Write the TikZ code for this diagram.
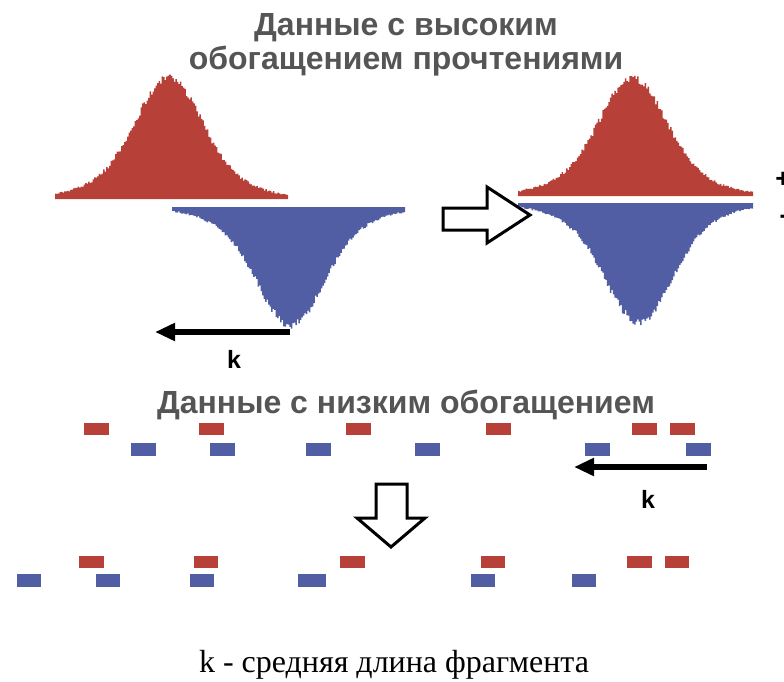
\documentclass[tikz,border=0pt]{standalone}
\usepackage{fontspec}
\setmainfont{Liberation Serif}
\newfontfamily\sansf{Liberation Sans}
\usetikzlibrary{arrows.meta}
\definecolor{hred}{RGB}{183,64,56}
\definecolor{hblue}{RGB}{82,94,163}
\definecolor{tgray}{RGB}{85,85,85}
\tikzset{
  title/.style={font=\sansf\bfseries\fontsize{32}{36}\selectfont, text=tgray, anchor=base, inner sep=0pt},
  klabel/.style={font=\sansf\bfseries\fontsize{25}{28}\selectfont, anchor=base, inner sep=0pt},
  pm/.style={font=\sansf\bfseries\fontsize{26}{28}\selectfont, anchor=center, inner sep=0pt},
  redbox/.style={fill=hred},
  bluebox/.style={fill=hblue},
  karrow/.style={line width=5.5pt, -{Triangle[length=20pt,width=17pt]}},
  hollow/.style={line width=3pt, draw=black, fill=white, line join=miter},
  declare function={bump(\d)=0.72*exp(-(\d)^2/(2*31^2))+0.28*exp(-(\d)^2/(2*58^2));}
}
\begin{document}
\begin{tikzpicture}[x=1pt,y=-1pt]
\useasboundingbox (0,0) rectangle (784,682);
\pgfmathsetseed{7}
% titles
\node[title] (t1) at (406,36) {Данные с высоким};
\node[title] (t2) at (406,70) {обогащением прочтениями};
% left histogram
\fill[hred] (55,199) -- plot[const plot, domain=55:288, samples=156] (\x,{199-121*bump(\x-168)-4*rand*sqrt(bump(\x-168))}) -- (288,199) -- cycle;
\draw[hred, line width=1.5pt] (55,198.5) -- (288,198.5);
\fill[hblue] (172,207) -- plot[const plot, domain=172:405, samples=156] (\x,{207+118*bump(\x-290)+4*rand*sqrt(bump(\x-290))}) -- (405,207) -- cycle;
\draw[hblue, line width=1.5pt] (172,207.5) -- (405,207.5);
% right histogram
\fill[hred] (518,196) -- plot[const plot, domain=518:753, samples=157] (\x,{196-118*bump(\x-632)-4*rand*sqrt(bump(\x-632))}) -- (753,196) -- cycle;
\draw[hred, line width=1.5pt] (518,195.5) -- (753,195.5);
\fill[hblue] (518,203) -- plot[const plot, domain=518:753, samples=157] (\x,{203+119*bump(\x-638)+4*rand*sqrt(bump(\x-638))}) -- (753,203) -- cycle;
\draw[hblue, line width=1.5pt] (518,203.5) -- (753,203.5);
% plus minus
\node[pm] (plus) at (783,180) {+};
\node[pm] (minus) at (784,219) {-};
% k arrow top
\coordinate (ka1) at (290,332);
\coordinate (kb1) at (155,332);
\draw[karrow] (ka1) -- (kb1);
\node[klabel] (k1) at (234,368) {k};
% hollow right arrow
\draw[hollow] (443,208) -- (487,208) -- (487,187) -- (530,215) -- (487,243) -- (487,230) -- (443,230) -- cycle;
% low enrichment title
\node[title] (t3) at (406,413) {Данные с низким обогащением};
% row 1
\fill[redbox] (84,423) rectangle (109,435);
\fill[redbox] (199,423) rectangle (224,435);
\fill[redbox] (346,423) rectangle (371,435);
\fill[redbox] (486,423) rectangle (511,435);
\fill[redbox] (632,423) rectangle (657,435);
\fill[redbox] (670,423) rectangle (695,435);
\fill[bluebox] (131,443) rectangle (156,456);
\fill[bluebox] (210,443) rectangle (235,456);
\fill[bluebox] (306,443) rectangle (331,456);
\fill[bluebox] (415,443) rectangle (440,456);
\fill[bluebox] (585,443) rectangle (610,456);
\fill[bluebox] (686,443) rectangle (711,456);
% k arrow bottom
\coordinate (ka2) at (707,467);
\coordinate (kb2) at (574,467);
\draw[karrow] (ka2) -- (kb2);
\node[klabel] (k2) at (648,508) {k};
% hollow down arrow
\draw[hollow] (376,484) -- (407,484) -- (407,518) -- (425,518) -- (391,547) -- (357,518) -- (376,518) -- cycle;
% row 2
\fill[redbox] (79,556) rectangle (104,568);
\fill[redbox] (194,556) rectangle (218,568);
\fill[redbox] (340,556) rectangle (365,568);
\fill[redbox] (481,556) rectangle (505,568);
\fill[redbox] (627,556) rectangle (652,568);
\fill[redbox] (665,556) rectangle (689,568);
\fill[bluebox] (17,574) rectangle (41,587);
\fill[bluebox] (96,574) rectangle (120,587);
\fill[bluebox] (190,574) rectangle (214,587);
\fill[bluebox] (298,574) rectangle (326,587);
\fill[bluebox] (471,574) rectangle (495,587);
\fill[bluebox] (572,574) rectangle (596,587);
% caption
\node[anchor=base, inner sep=0pt, font=\fontsize{32}{36}\selectfont] (cap) at (394,672) {k - средняя длина фрагмента};
\end{tikzpicture}
\end{document}
